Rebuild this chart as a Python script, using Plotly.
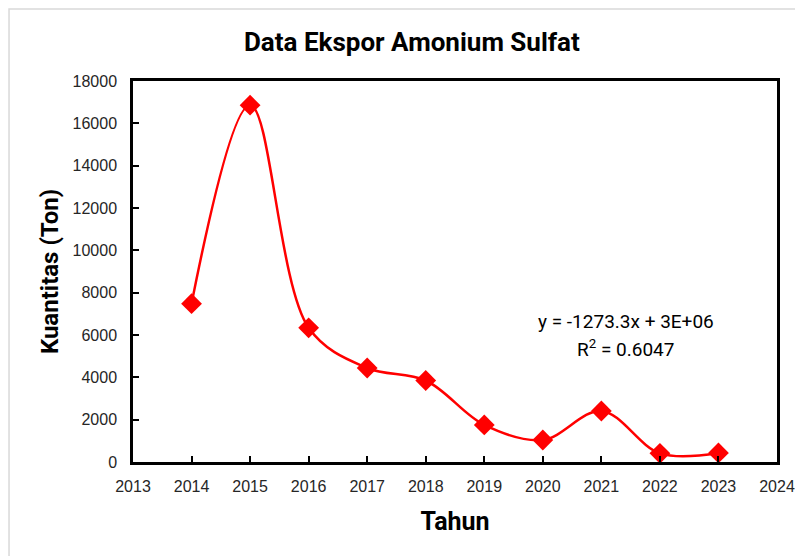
import plotly.graph_objects as go

tahun = [2014, 2015, 2016, 2017, 2018, 2019, 2020, 2021, 2022, 2023]
kuantitas = [7480, 16860, 6340, 4440, 3850, 1750, 1040, 2410, 410, 430]
persamaan = ["y = -1273.3x + 3E+06", "R<sup>2</sup> = 0.6047"]

RED = "#ff0000"
TICK_FONT = dict(family="Liberation Sans, Arial, sans-serif", size=16, color="#262626")
BOLD = "Roboto, Arial, sans-serif"

fig = go.Figure()
fig.add_trace(go.Scatter(
    x=tahun, y=kuantitas, mode="lines+markers",
    line=dict(color=RED, width=2.5, shape="spline", smoothing=1),
    marker=dict(symbol="diamond", size=16, color=RED),
    showlegend=False))

for baris, ypos in zip(persamaan, [0.370, 0.299]):
    fig.add_annotation(
        text=baris, xref="paper", yref="paper", x=0.7655, y=ypos,
        xanchor="center", yanchor="middle", showarrow=False,
        font=dict(family="Roboto, sans-serif", size=19, color="#000000"))

# light gray chart-area border
fig.add_shape(type="rect", xref="paper", yref="paper",
              x0=-0.1925, y0=-0.6, x1=1.2, y1=1.189,
              line=dict(color="#d9d9d9", width=1.5), layer="below")

# the page body adds an 8px margin, so margins are shifted to compensate
fig.update_layout(
    width=803, height=556,
    margin=dict(l=125, r=34, t=73, b=102),
    paper_bgcolor="white", plot_bgcolor="white",
    title=dict(text="<b>Data Ekspor Amonium Sulfat</b>", x=0.503, xanchor="center",
               y=0.939, yanchor="middle",
               font=dict(family=BOLD, size=26, color="#000000")),
    xaxis=dict(range=[2013, 2024], dtick=1, tick0=2013, showgrid=False, zeroline=False,
               showline=True, mirror=True, linecolor="#000000", linewidth=2.5,
               ticks="inside", ticklen=6, tickcolor="#000000", tickwidth=1.5,
               tickfont=TICK_FONT, ticklabelstandoff=8,
               title=dict(text="<b>Tahun</b>", standoff=19,
                          font=dict(family=BOLD, size=25, color="#000000"))),
    yaxis=dict(range=[0, 18000], dtick=2000, tickformat="d", showgrid=False, zeroline=False,
               showline=True, mirror=True, linecolor="#000000", linewidth=2.5,
               ticks="inside", ticklen=6, tickcolor="#000000", tickwidth=1.5,
               tickfont=TICK_FONT, ticklabelstandoff=10,
               title=dict(text="<b>Kuantitas (Ton)</b>", standoff=8,
                          font=dict(family=BOLD, size=24, color="#000000"))),
)

fig.write_html("out.html")
